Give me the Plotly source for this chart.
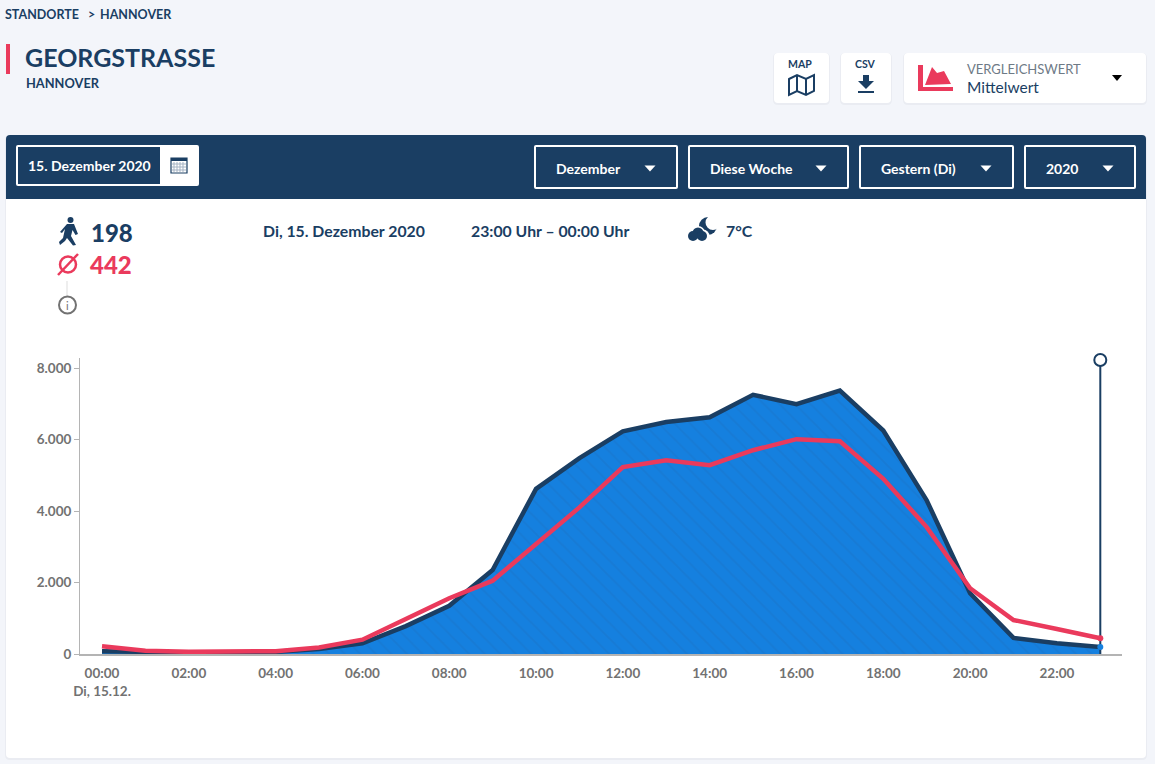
import plotly.graph_objects as go

W, H = 1155, 764

NAVY = "#1A3E63"
RED = "#EA3A5C"
BLUE = "#1580DF"
PAGE = "#F3F5FA"
GREY = "#727272"

hours = list(range(24))
tick_hours = list(range(0, 24, 2))
tick_labels = ["00:00<br>Di, 15.12.", "02:00", "04:00", "06:00", "08:00", "10:00",
               "12:00", "14:00", "16:00", "18:00", "20:00", "22:00"]
y_ticks = [0, 2000, 4000, 6000, 8000]
y_labels = ["0", "2.000", "4.000", "6.000", "8.000"]

visitors = [80, 60, 20, 20, 60, 140, 300, 780, 1350, 2350, 4620, 5480,
            6230, 6490, 6620, 7250, 6990, 7370, 6250, 4300, 1700, 450, 300, 198]
average = [220, 90, 60, 65, 80, 180, 400, 980, 1560, 2050, 3080, 4100,
           5230, 5420, 5280, 5700, 6010, 5950, 4900, 3550, 1840, 950, 700, 442]
cursor_hour = 23
cursor_top = 8225

dropdowns = [("Dezember", 534, 678), ("Diese Woche", 688, 849),
             ("Gestern (Di)", 859, 1014), ("2020", 1024, 1136)]

shapes = []
notes = []


def px(x, y):
    return f"{x / W:.5f},{1 - y / H:.5f}"


def path(points, fill=None, line=None, width=0, close=True):
    d = "M" + "L".join(px(*p) for p in points) + ("Z" if close else "")
    shapes.append(dict(type="path", path=d, xref="paper", yref="paper", layer="below",
                       fillcolor=fill if fill else "rgba(0,0,0,0)",
                       line=dict(color=line if line else "rgba(0,0,0,0)", width=width)))


def rrect(x0, y0, x1, y1, r=4, fill="white", line=None, width=0):
    d = (f"M{px(x0 + r, y0)}L{px(x1 - r, y0)}Q{px(x1, y0)} {px(x1, y0 + r)}"
         f"L{px(x1, y1 - r)}Q{px(x1, y1)} {px(x1 - r, y1)}"
         f"L{px(x0 + r, y1)}Q{px(x0, y1)} {px(x0, y1 - r)}"
         f"L{px(x0, y0 + r)}Q{px(x0, y0)} {px(x0 + r, y0)}Z")
    shapes.append(dict(type="path", path=d, xref="paper", yref="paper", layer="below",
                       fillcolor=fill,
                       line=dict(color=line if line else "rgba(0,0,0,0)", width=width)))


def circle(cx, cy, r, fill=None, line=None, width=0):
    shapes.append(dict(type="circle", xref="paper", yref="paper", layer="below",
                       x0=(cx - r) / W, x1=(cx + r) / W,
                       y0=1 - (cy + r) / H, y1=1 - (cy - r) / H,
                       fillcolor=fill if fill else "rgba(0,0,0,0)",
                       line=dict(color=line if line else "rgba(0,0,0,0)", width=width)))


def text(s, x, y, size, color=NAVY, weight=700, anchor="left"):
    # annotations land about a pixel right of the asked position
    notes.append(dict(text=s, x=(x - 1) / W, y=1 - y / H, xref="paper", yref="paper",
                      xanchor=anchor, yanchor="middle", showarrow=False, borderpad=0,
                      font=dict(family="Lato", size=size, color=color, weight=weight)))


def card(x0, y0, x1, y1):
    # no box-shadow on shapes, a slightly darker rect behind is close enough
    rrect(x0 - 1, y0, x1 + 1, y1 + 2, r=5, fill="#EAECF2")
    rrect(x0, y0, x1, y1, r=4)


# top of the page
text("STANDORTE", 5, 14, 12.5)
text("&gt;", 88, 14, 12.5)
text("HANNOVER", 100, 14, 12.5)
path([(6, 44), (10, 44), (10, 74), (6, 74)], fill=RED)
text("GEORGSTRASSE", 25, 57, 25)
text("HANNOVER", 26, 83, 12.8)

card(774, 53, 829, 103)
text("MAP", 801, 64, 10.5, anchor="center")
path([(789, 79), (797, 75), (806, 79), (814, 75), (814, 91), (806, 95), (797, 91), (789, 95)],
     line=NAVY, width=2)
path([(797, 75), (797, 91)], line=NAVY, width=2, close=False)
path([(806, 79), (806, 95)], line=NAVY, width=2, close=False)

card(841, 53, 891, 103)
text("CSV", 866, 64, 10.5, anchor="center")
path([(863, 75), (869, 75), (869, 81), (874, 81), (866, 89), (858, 81), (863, 81)], fill=NAVY)
path([(858, 91), (874, 91), (874, 93), (858, 93)], fill=NAVY)

card(904, 53, 1146, 103)
path([(918, 65), (923, 65), (923, 87), (953, 87), (953, 91), (918, 91)], fill=RED)
path([(925, 85), (932, 67), (937, 73), (944, 71), (951, 84)], fill=RED)
text("VERGLEICHSWERT", 967, 69, 13, color="#6E7A86", weight=400)
text("Mittelwert", 967, 87, 15.5, color=NAVY, weight=400)
path([(1112, 75), (1122, 75), (1117, 81)], fill="black")

# white panel with the dark filter bar
card(6, 135, 1146, 758)
rrect(6, 135, 1146, 199, r=4, fill=NAVY)
path([(6, 190), (1146, 190), (1146, 199), (6, 199)], fill=NAVY)

rrect(16, 145, 199, 186, r=2, fill="white")
path([(18, 147), (160, 147), (160, 184), (18, 184)], fill=NAVY)
text("15. Dezember 2020", 28, 165, 14, color="white")
path([(171, 158), (187, 158), (187, 173), (171, 173)], fill="white", line=NAVY, width=1.2)
path([(171, 158), (187, 158), (187, 161), (171, 161)], fill=NAVY)
for gx in (174, 177, 180, 183):
    path([(gx, 162), (gx, 172)], line="#A5B4C4", width=1, close=False)
for gy in (164, 167, 170):
    path([(172, gy), (186, gy)], line="#A5B4C4", width=1, close=False)

for label, x0, x1 in dropdowns:
    rrect(x0 + 1, 146, x1 - 1, 188, r=1, fill=NAVY, line="white", width=2)
    text(label, x0 + 22, 168, 14, color="white")
    tx = x1 - 28
    path([(tx - 5.5, 165.5), (tx + 5.5, 165.5), (tx, 171.5)], fill="white")

# selected hour readout
circle(70.5, 220, 3, fill=NAVY)
path([(67, 224), (74, 224), (78, 234), (75.5, 235), (72.5, 230), (71, 236), (76, 245), (73, 245.5),
      (67, 238), (65, 241), (60, 245), (59, 242), (63, 238), (65, 229), (62, 233), (60, 232)],
     fill=NAVY)
text("198", 91, 232, 24, weight=900)
circle(68, 264.5, 8, line=RED, width=2.5)
path([(58, 275), (78, 254)], line=RED, width=2.5, close=False)
text("442", 90, 264, 24, color=RED, weight=900)
path([(67, 281), (67, 296)], line="#DDDDDD", width=1, close=False)
circle(67.5, 305, 8.5, fill="white", line=GREY, width=2)
text("i", 68, 305, 11, color=GREY, weight=400, anchor="center")

text("Di, 15. Dezember 2020", 263, 230, 15.8)
text("23:00 Uhr – 00:00 Uhr", 471, 230, 15.8)
text("7°C", 726, 230, 15.8)

# moon behind a cloud
circle(708, 226, 9, fill=NAVY)
circle(713, 222.5, 7.5, fill="white")
circle(698, 233, 7, fill="white")
circle(703, 236, 6.5, fill="white")
circle(698, 233, 5.5, fill=NAVY)
circle(693, 236, 5, fill=NAVY)
circle(702, 236, 5, fill=NAVY)

fig = go.Figure()

fig.add_trace(go.Scatter(
    x=hours, y=visitors, mode="lines", fill="tozeroy",
    fillcolor=BLUE,
    fillpattern=dict(shape="\\", bgcolor=BLUE, fgcolor="#1A76CC", size=11, solidity=0.2),
    line=dict(color=NAVY, width=4.5),
    hoverinfo="skip"
))
fig.add_trace(go.Scatter(
    x=hours, y=average, mode="lines",
    line=dict(color=RED, width=4.5),
    hoverinfo="skip"
))
fig.add_trace(go.Scatter(
    x=[cursor_hour, cursor_hour], y=[0, cursor_top], mode="lines",
    line=dict(color=NAVY, width=2),
    hoverinfo="skip"
))
fig.add_trace(go.Scatter(
    x=[cursor_hour], y=[cursor_top], mode="markers", cliponaxis=False,
    marker=dict(size=12, color="white", line=dict(color=NAVY, width=2)),
    hoverinfo="skip"
))
fig.add_trace(go.Scatter(
    x=[cursor_hour], y=[visitors[-1]], mode="markers",
    marker=dict(size=6, color=BLUE),
    hoverinfo="skip"
))
fig.add_trace(go.Scatter(
    x=[cursor_hour], y=[average[-1]], mode="markers",
    marker=dict(size=6, color=RED),
    hoverinfo="skip"
))

tick_font = dict(family="Lato", size=13.5, color=GREY, weight=700)

fig.update_layout(
    width=W,
    height=H,
    margin=dict(l=0, r=0, t=0, b=0, autoexpand=False),
    showlegend=False,
    paper_bgcolor=PAGE,
    plot_bgcolor="rgba(0,0,0,0)",
    shapes=shapes,
    annotations=notes,
    xaxis=dict(
        domain=[80 / W, 1122 / W],
        range=[-0.507, 23.5],
        tickvals=tick_hours,
        ticktext=tick_labels,
        tickfont=tick_font,
        ticks="",
        ticklabelstandoff=6,
        showgrid=False,
        zeroline=False,
        showline=True,
        linecolor="#B4B4B4",
        linewidth=2,
    ),
    yaxis=dict(
        domain=[1 - 654 / H, 1 - 358 / H],
        range=[0, 8280],
        tickvals=y_ticks,
        ticktext=y_labels,
        tickfont=tick_font,
        ticks="outside",
        ticklen=5,
        tickcolor="#B4B4B4",
        showgrid=False,
        zeroline=False,
        showline=True,
        linecolor="#B4B4B4",
        linewidth=1,
    ),
)

fig.write_html("out.html", config=dict(displayModeBar=False),
               post_script="document.body.style.margin='0';")
